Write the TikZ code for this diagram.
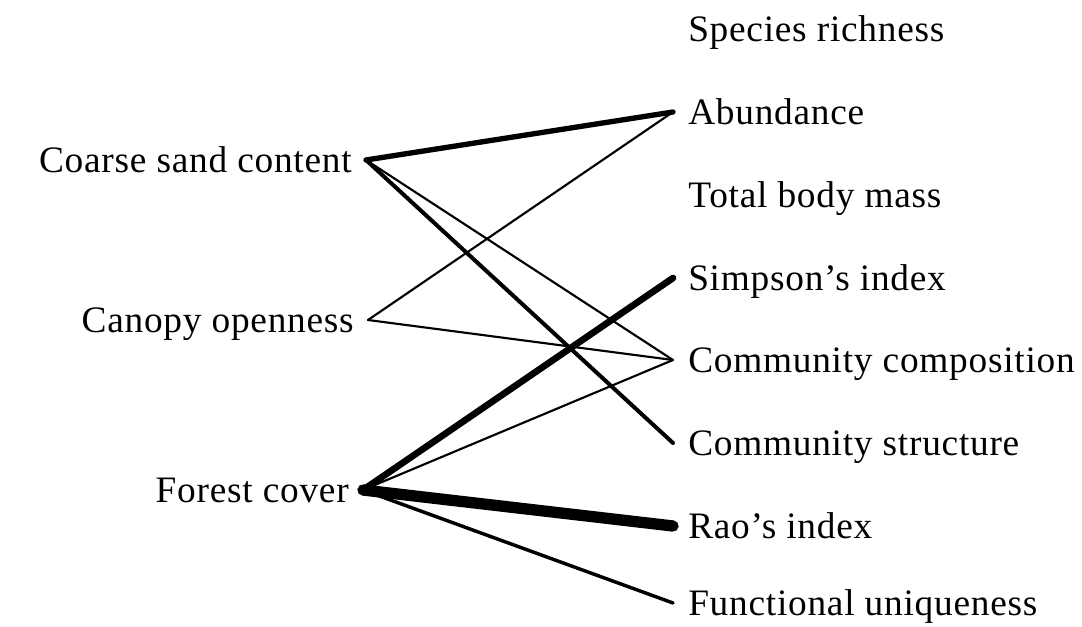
\documentclass[tikz,border=0pt]{standalone}
\usepackage{fontspec}
\setmainfont{Liberation Serif}[LetterSpace=2]
\usepackage{tikz}
\usetikzlibrary{calc}
\tikzstyle{driver}=[anchor=east, inner xsep=10.5pt, inner ysep=0pt, text height=19pt, text depth=0pt]
\tikzstyle{response}=[anchor=west, inner xsep=11.25pt, inner ysep=0pt, text height=19pt, text depth=0pt]
\tikzstyle{link}=[line cap=round, line width=1.6pt]

\begin{document}
\begin{tikzpicture}[x=0.75pt, y=-0.75pt, font=\fontsize{28}{34}\selectfont]
\useasboundingbox (0,0) rectangle (1082,627);
% drivers
\node[driver] (sand) at (366,160) {Coarse sand content};
\node[driver] (canopy) at (368,320) {Canopy openness};
\node[driver] (forest) at (363,490) {Forest cover};
% responses
\node[response] (rich) at (673,29) {Species richness};
\node[response] (abund) at (673,112) {Abundance};
\node[response] (mass) at (673,195) {Total body mass};
\node[response] (simp) at (673,278) {Simpson's index};
\node[response] (comp) at (673,360) {Community composition};
\node[response] (struct) at (673,443) {Community structure};
\node[response] (rao) at (673,526) {Rao's index};
\node[response] (uniq) at (673,603) {Functional uniqueness};
% paths
\draw[link, line width=4pt] (sand.east)--(abund.west);
\draw[link] (sand.east)--(comp.west);
\draw[link, line width=3pt] (sand.east)--(struct.west);
\draw[link] (canopy.east)--(abund.west);
\draw[link] (canopy.east)--(comp.west);
\draw[link, line width=5pt] (forest.east)--(simp.west);
\draw[link] (forest.east)--(comp.west);
\draw[link, line width=8.5pt] (forest.east)--(rao.west);
\draw[link, line width=2.6pt] (forest.east)--(uniq.west);
\end{tikzpicture}
\end{document}
